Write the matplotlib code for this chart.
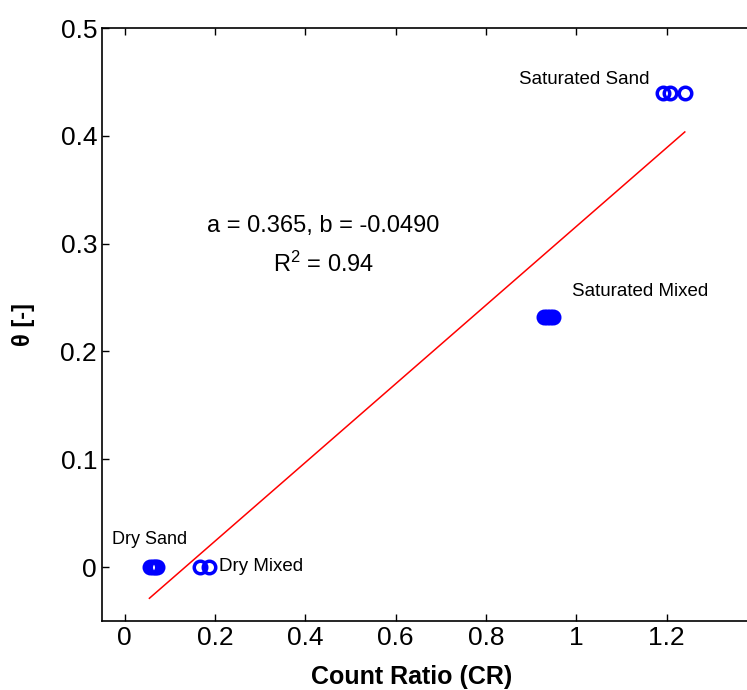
import numpy as np
import matplotlib.pyplot as plt

plt.rcParams['font.family'] = ['Liberation Sans', 'DejaVu Sans']

# measured points (count ratio vs water content)
dry_sand_x = [0.057, 0.062, 0.067, 0.072]
dry_sand_y = [0, 0, 0, 0]
dry_mixed_x = [0.166, 0.188]
dry_mixed_y = [0, 0]
sat_sand_x = [1.192, 1.207, 1.24]
sat_sand_y = [0.44, 0.44, 0.44]
sat_mixed_x = [0.928, 0.935, 0.942, 0.948]
sat_mixed_y = [0.232, 0.232, 0.232, 0.232]

# linear fit theta = a*CR + b
a = 0.365
b = -0.0490
r2 = 0.94
fit_x = [0.055, 1.24]

fig = plt.figure(figsize=(7.47, 6.9), dpi=100)
ax = fig.add_axes([0.1365, 0.1, 0.877, 0.8594])

allx = dry_sand_x + dry_mixed_x + sat_sand_x + sat_mixed_x
ally = dry_sand_y + dry_mixed_y + sat_sand_y + sat_mixed_y
ax.plot(allx, ally, 'o', mfc='none', mec='blue', mew=2.5, ms=9, ls='none')
fx = np.array(fit_x)
ax.plot(fx, a * fx + b, color='red', lw=1.1)

ax.text(0.055, 0.026, 'Dry Sand', fontsize=13, ha='center', va='center')
ax.text(0.21, 0.001, 'Dry Mixed', fontsize=13.5, ha='left', va='center')
ax.text(1.162, 0.452, 'Saturated Sand', fontsize=13.5, ha='right', va='center')
ax.text(0.99, 0.256, 'Saturated Mixed', fontsize=13.5, ha='left', va='center')
ax.text(0.44, 0.316, 'a = %.3f, b = %.4f' % (a, b), fontsize=17, ha='center', va='center')
ax.text(0.44, 0.281, '$\\mathregular{R^2}$ = %.2f' % r2, fontsize=17, ha='center', va='center')

ax.set_xlim(-0.05, 1.4)
ax.set_ylim(-0.05, 0.5)
ax.set_xticks([0, 0.2, 0.4, 0.6, 0.8, 1, 1.2])
ax.set_xticklabels(['0', '0.2', '0.4', '0.6', '0.8', '1', '1.2'])
ax.set_yticks([0, 0.1, 0.2, 0.3, 0.4, 0.5])
ax.set_yticklabels(['0', '0.1', '0.2', '0.3', '0.4', '0.5'])
ax.tick_params(direction='in', top=True, right=True, labelsize=19, length=5, width=1)
for s in ax.spines.values():
    s.set_linewidth(1.2)
ax.set_xlabel('Count Ratio (CR)', fontsize=18, fontweight='bold')
ax.xaxis.set_label_coords(0.473, -0.075)
ax.set_ylabel('θ [-]', fontsize=17, fontweight='bold', labelpad=18)

fig.savefig('out.png', dpi=100)
